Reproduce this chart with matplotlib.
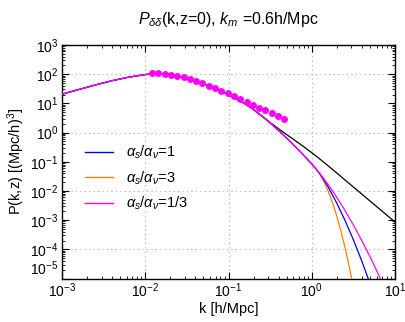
import matplotlib
matplotlib.use("Agg")
import matplotlib.pyplot as plt
from matplotlib.lines import Line2D
from matplotlib.ticker import LogLocator, NullFormatter, FixedLocator

plt.rcParams['font.family'] = ['Liberation Sans', 'DejaVu Sans']
plt.rcParams['mathtext.fontset'] = 'custom'
plt.rcParams['mathtext.rm'] = 'Liberation Sans'
plt.rcParams['mathtext.it'] = 'Liberation Sans:italic'
plt.rcParams['mathtext.bf'] = 'Liberation Sans:bold'

# ---- data ----
k_common = [0.001, 0.0016, 0.0025, 0.004, 0.0063, 0.01, 0.0121, 0.0144, 0.0171, 0.0204,
            0.0243, 0.0289, 0.0344, 0.0409, 0.0487, 0.058, 0.069, 0.0821, 0.0977, 0.116,
            0.138, 0.165, 0.196]
p_common = [20.6, 30.0, 42.5, 60.0, 79.0, 97.0, 102.5, 105.0, 103.0, 96.5,
            88.0, 78.0, 68.0, 58.0, 48.7, 40.0, 32.5, 26.0, 20.5, 15.8,
            12.0, 8.9, 6.4]

k_black_tail = [0.251, 0.316, 0.398, 0.501, 0.631, 0.794, 1.0, 1.259, 1.585, 2.0, 2.51, 3.98, 6.31, 10.0]
p_black_tail = [3.72, 2.22, 1.36, 0.848, 0.535, 0.334, 0.2045, 0.122, 0.0713, 0.0412, 0.0237,
                0.00786, 0.0026, 0.00086]

k_col_tail = [0.251, 0.316, 0.398, 0.501, 0.631, 0.794, 1.0, 1.122]
p_col_tail = [3.70, 2.14, 1.19, 0.644, 0.336, 0.171, 0.0836, 0.0575]

k_orange = [1.259, 1.413, 1.585, 1.778, 1.995, 2.239, 2.512, 2.818, 3.162]
p_orange = [0.0359, 0.0197, 9.4e-3, 3.91e-3, 1.40e-3, 4.29e-4, 1.135e-4, 2.59e-5, 5.1e-6]

k_blue = [1.259, 1.413, 1.585, 1.995, 2.512, 3.162, 3.981, 5.012, 5.623]
p_blue = [0.0374, 0.0229, 0.01326, 3.87e-3, 9.7e-4, 2.13e-4, 4.05e-5, 6.7e-6, 2.6e-6]

k_magenta = [1.259, 1.585, 1.995, 2.512, 3.162, 3.981, 5.012, 6.310, 7.943]
p_magenta = [0.0385, 0.01607, 6.11e-3, 2.13e-3, 6.85e-4, 2.03e-4, 5.57e-5, 1.41e-5, 3.3e-6]

k_dots = [0.0121, 0.0144, 0.0171, 0.0204, 0.0243, 0.0289, 0.0344, 0.0409, 0.0487, 0.058, 0.069,
          0.0821, 0.0977, 0.116, 0.138, 0.165, 0.196, 0.233, 0.278, 0.330, 0.393, 0.468]
p_dots = [106, 106, 103, 96.5, 88, 78, 68, 58, 48.7, 40.3, 33.1,
          27.0, 21.8, 17.5, 14.0, 11.3, 9.0, 7.2, 5.8, 4.7, 3.7, 3.0]

y_ticks = [1e-5, 1e-4, 1e-3, 1e-2, 1e-1, 1e0, 1e1, 1e2, 1e3]
labels = [r'$\alpha_s/\alpha_\nu$=1', r'$\alpha_s/\alpha_\nu$=3', r'$\alpha_s/\alpha_\nu$=1/3']
colors = ['#0000ff', '#ff8000', '#ff00ff']

# ---- figure ----
fig = plt.figure(figsize=(4.05, 3.22), dpi=100)
ax = fig.add_axes([62/405, 1-278.5/322, (395-62)/405, (278.5-45)/322])

k_col = k_common + k_col_tail
p_col = p_common + p_col_tail

ax.plot(k_common + k_black_tail, p_common + p_black_tail, color='black', lw=0.9, zorder=3)
ax.plot(k_col + k_orange, p_col + p_orange, color=colors[1], lw=0.9, zorder=3.5)
ax.plot(k_col + k_blue, p_col + p_blue, color=colors[0], lw=0.9, zorder=4)
ax.plot(k_col + k_magenta, p_col + p_magenta, color=colors[2], lw=0.9, zorder=5)
ax.plot(k_dots, p_dots, 'o', color='#ff00ff', ms=5, mec='none', zorder=6)

ax.set_xscale('log')
ax.set_yscale('log')
ax.set_xlim(1e-3, 10)
ax.set_ylim(1e-5, 1e3)

for yv in [1e2, 1e0, 1e-2, 1e-4]:
    ax.axhline(yv, color='#aaaaaa', ls=(0, (1, 3)), lw=0.8, zorder=1)
for xv in [1e-2, 1e-1, 1e0]:
    ax.axvline(xv, color='#aaaaaa', ls=(0, (1, 3)), lw=0.8, zorder=1)

ax.yaxis.set_major_locator(FixedLocator(y_ticks))
ax.yaxis.set_minor_locator(LogLocator(base=10, subs=range(2, 10), numticks=20))
ax.yaxis.set_minor_formatter(NullFormatter())
ax.xaxis.set_minor_locator(LogLocator(base=10, subs=range(2, 10), numticks=20))
ax.xaxis.set_minor_formatter(NullFormatter())

ax.tick_params(which='both', direction='in', top=True, right=True, labelsize=10)
ax.tick_params(axis='x', pad=2)
ax.tick_params(axis='y', pad=2.5)
ax.tick_params(which='major', length=5, width=0.8)
ax.tick_params(which='minor', length=2.5, width=0.6)
for s in ax.spines.values():
    s.set_linewidth(1.0)

# lift the lowest y label so it clears the first x label
ax.yaxis.get_major_ticks()[0].label1.set_va('bottom')

ax.set_xlabel('k [h/Mpc]', fontsize=10.5, labelpad=1.5)
ax.set_ylabel(r'P(k,z) [(Mpc/h)$^3$]', fontsize=10.5, labelpad=2.5)
ax.set_title(r'$P_{\delta\delta}$(k,z=0), $k_m$ =0.6h/Mpc', fontsize=11.5, pad=15)

handles = [Line2D([], [], color=c, lw=1.0) for c in colors]
ax.legend(handles, labels, loc='center left', bbox_to_anchor=(0.06, 0.43), frameon=False,
          fontsize=10.5, handlelength=1.9, handletextpad=0.9, labelspacing=0.55,
          borderpad=0.2, borderaxespad=0)

fig.savefig('out.png', dpi=100)
